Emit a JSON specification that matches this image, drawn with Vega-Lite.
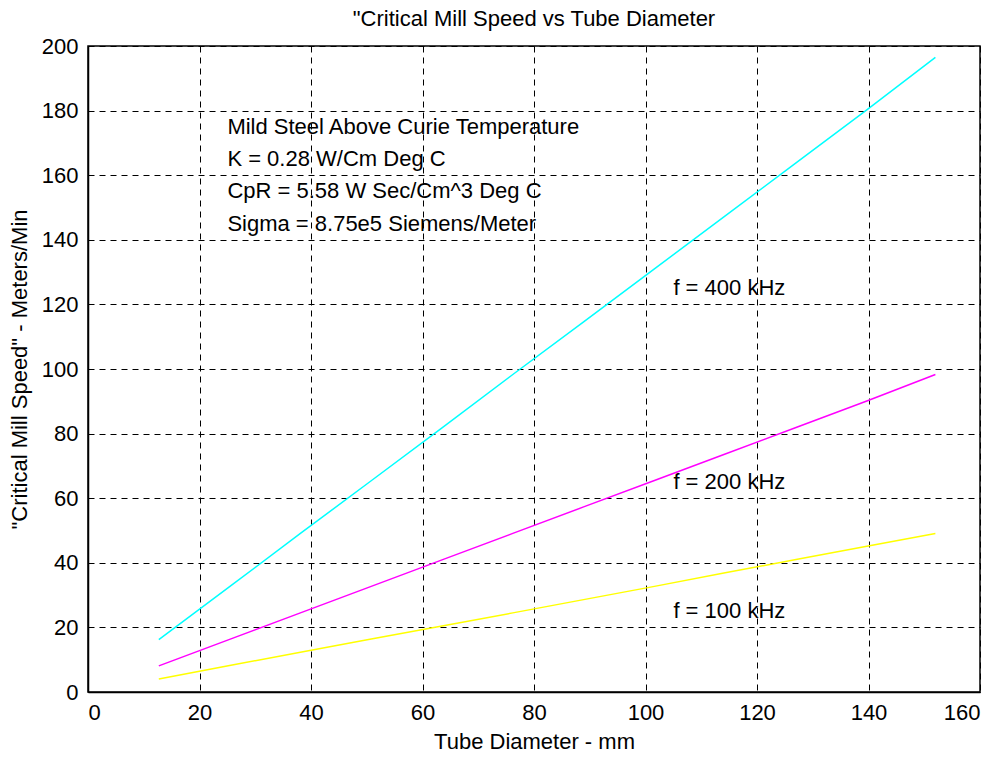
{
  "$schema": "https://vega.github.io/schema/vega-lite/v6.json",
  "autosize": {"type": "none"},
  "padding": {"left": 88, "top": 46, "right": 23, "bottom": 67},
  "width": 892,
  "height": 646,
  "background": "white",
  "title": {
    "text": "\"Critical Mill Speed vs Tube Diameter",
    "font": "Liberation Sans",
    "fontSize": 22,
    "fontWeight": "normal",
    "color": "black",
    "offset": 4,
    "anchor": "middle"
  },
  "config": {
    "view": {"stroke": "black", "strokeWidth": 1.5},
    "axis": {
      "labelFont": "Liberation Sans",
      "labelFontSize": 22,
      "labelColor": "black",
      "titleFont": "Liberation Sans",
      "titleFontSize": 22,
      "titleFontWeight": "normal",
      "titleColor": "black",
      "domainColor": "black",
      "domainWidth": 1.5,
      "ticks": false,
      "grid": true,
      "gridColor": "black",
      "gridOpacity": 1,
      "gridWidth": 1,
      "gridDash": [6, 5]
    }
  },
  "layer": [
    {
      "data": {
        "values": [
          {"d": 12.7, "v": 16.2, "f": "400"},
          {"d": 25.4, "v": 32.6, "f": "400"},
          {"d": 38.1, "v": 49.1, "f": "400"},
          {"d": 50.8, "v": 65.4, "f": "400"},
          {"d": 63.5, "v": 81.8, "f": "400"},
          {"d": 76.2, "v": 98.3, "f": "400"},
          {"d": 88.9, "v": 114.6, "f": "400"},
          {"d": 101.6, "v": 131.0, "f": "400"},
          {"d": 114.3, "v": 147.4, "f": "400"},
          {"d": 127.0, "v": 163.8, "f": "400"},
          {"d": 139.7, "v": 180.2, "f": "400"},
          {"d": 152.0, "v": 196.5, "f": "400"},
          {"d": 12.7, "v": 8.1, "f": "200"},
          {"d": 25.4, "v": 16.3, "f": "200"},
          {"d": 38.1, "v": 24.5, "f": "200"},
          {"d": 50.8, "v": 32.7, "f": "200"},
          {"d": 63.5, "v": 40.9, "f": "200"},
          {"d": 76.2, "v": 49.1, "f": "200"},
          {"d": 88.9, "v": 57.3, "f": "200"},
          {"d": 101.6, "v": 65.5, "f": "200"},
          {"d": 114.3, "v": 73.7, "f": "200"},
          {"d": 127.0, "v": 81.9, "f": "200"},
          {"d": 139.7, "v": 90.1, "f": "200"},
          {"d": 152.0, "v": 98.3, "f": "200"},
          {"d": 12.7, "v": 4.0, "f": "100"},
          {"d": 25.4, "v": 8.2, "f": "100"},
          {"d": 38.1, "v": 12.3, "f": "100"},
          {"d": 50.8, "v": 16.4, "f": "100"},
          {"d": 63.5, "v": 20.4, "f": "100"},
          {"d": 76.2, "v": 24.5, "f": "100"},
          {"d": 88.9, "v": 28.6, "f": "100"},
          {"d": 101.6, "v": 32.7, "f": "100"},
          {"d": 114.3, "v": 36.9, "f": "100"},
          {"d": 127.0, "v": 41.0, "f": "100"},
          {"d": 139.7, "v": 45.1, "f": "100"},
          {"d": 152.0, "v": 49.1, "f": "100"}
        ]
      },
      "mark": {"type": "line", "strokeWidth": 1.5},
      "encoding": {
        "x": {
          "field": "d", "type": "quantitative",
          "scale": {"domain": [0, 160], "nice": false, "zero": false},
          "axis": {"values": [0, 20, 40, 60, 80, 100, 120, 140, 160], "title": "Tube Diameter - mm", "labelPadding": 10, "titlePadding": 8}
        },
        "y": {
          "field": "v", "type": "quantitative",
          "scale": {"domain": [0, 200], "nice": false},
          "axis": {"values": [0, 20, 40, 60, 80, 100, 120, 140, 160, 180, 200], "title": "\"Critical Mill Speed\" - Meters/Min", "labelPadding": 10, "titlePadding": 10}
        },
        "color": {
          "field": "f", "type": "nominal",
          "scale": {"domain": ["400", "200", "100"], "range": ["#00FFFF", "#FF00FF", "#FFFF00"]},
          "legend": null
        }
      }
    },
    {
      "data": {
        "values": [
          {"x": 25, "y": 175, "t": "Mild Steel Above Curie Temperature"},
          {"x": 25, "y": 165, "t": "K = 0.28 W/Cm Deg C"},
          {"x": 25, "y": 155, "t": "CpR = 5.58 W Sec/Cm^3 Deg C"},
          {"x": 25, "y": 145, "t": "Sigma = 8.75e5 Siemens/Meter"},
          {"x": 105, "y": 125, "t": "f = 400 kHz"},
          {"x": 105, "y": 65, "t": "f = 200 kHz"},
          {"x": 105, "y": 25, "t": "f = 100 kHz"}
        ]
      },
      "mark": {"type": "text", "align": "left", "baseline": "middle", "font": "Liberation Sans", "fontSize": 22, "color": "black"},
      "encoding": {
        "x": {"field": "x", "type": "quantitative"},
        "y": {"field": "y", "type": "quantitative"},
        "text": {"field": "t"}
      }
    }
  ]
}
